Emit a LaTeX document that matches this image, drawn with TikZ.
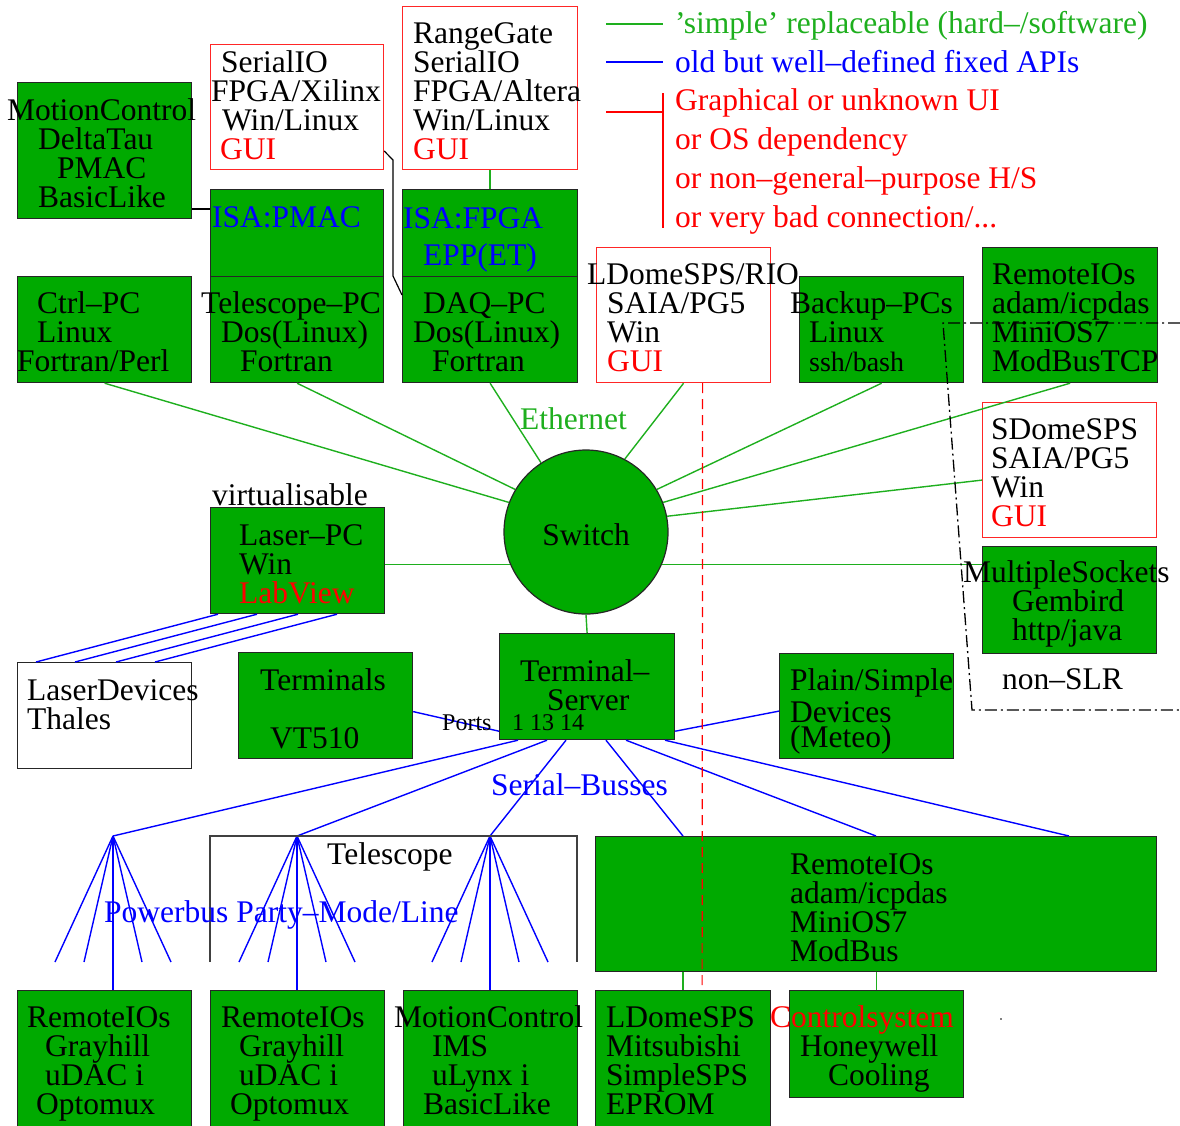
\documentclass[tikz,border=0pt]{standalone}
\usepackage{fontspec}
\setmainfont{Liberation Serif}
\usetikzlibrary{calc}
\definecolor{boxgreen}{RGB}{0,170,0}
\definecolor{netgreen}{RGB}{30,175,30}
\definecolor{guired}{RGB}{255,0,0}
\definecolor{apiblue}{RGB}{0,0,255}
\newcommand{\fsz}{\fontsize{31.5}{29}\selectfont}
\newcommand{\fsm}{\fontsize{24}{24}\selectfont}
\newcommand{\gui}[1]{\textcolor{guired}{#1}}
\tikzset{
  unit/.style={draw=black!85, line width=1.2pt, fill=boxgreen, inner sep=0pt, anchor=north west},
  redbox/.style={draw=guired!85, line width=1.2pt, fill=white, inner sep=0pt, anchor=north west},
  txt/.style={anchor=base west, inner sep=0pt, align=left, font=\fsz},
  eth/.style={draw=netgreen, line width=1.4pt},
  ser/.style={draw=apiblue, line width=1.4pt},
}
\begin{document}
\begin{tikzpicture}[x=1pt,y=-1pt]
\useasboundingbox (0,0) rectangle (1180,1125);
% boxes
\foreach \n/\xa/\ya/\xb/\yb in {mc/17/82/191/218, isap/210/189/383/276, isaf/402/189/577/276,
  ctrl/17/276/191/382, tpc/210/276/383/382, daq/402/276/577/382, bak/799/276/963/382,
  rtcp/982/247/1157/382, msock/982/546/1156/653, laser/210/507/384/613, term/238/652/412/758,
  tsrv/499/633/674/739, plain/779/653/953/758, rbig/595/836/1156/971, rio1/17/990/191/1135,
  rio2/210/990/384/1135, mc2/403/990/577/1135, ldsps/595/990/770/1135, hwell/789/990/963/1097}{
  \node[unit, minimum width={(\xb-\xa)*1pt}, minimum height={(\yb-\ya)*1pt}] (\n) at (\xa,\ya) {};
}
\foreach \n/\xa/\ya/\xb/\yb in {sio/210/44/383/169, rg/402/6/577/169, ldrio/596/247/770/382,
  sdome/982/402/1156/537}{
  \node[redbox, minimum width={(\xb-\xa)*1pt}, minimum height={(\yb-\ya)*1pt}] (\n) at (\xa,\ya) {};
}
\node[unit, fill=white, minimum width=174pt, minimum height=106pt] (ldev) at (17,662) {};
\node[circle, draw=black!85, line width=1.2pt, fill=boxgreen, minimum size=164pt, inner sep=0pt,
  text height=27pt, font=\fsz] (sw) at (586,532) {Switch};

% ethernet
\draw[eth] (ctrl.south) -- (sw.159);
\draw[eth] (tpc.south) -- (sw.149);
\draw[eth] (daq.south) -- (sw.123);
\draw[eth] (ldrio.south) -- (sw.62);
\draw[eth] (bak.south) -- (sw.31);
\draw[eth] (rtcp.south) -- (sw.21);
\draw[eth] ([yshift=-10pt]sdome.west) -- (sw.11);
\draw[eth] (laser.east |- sw.203) -- (sw.203);
\draw[eth] (sw.-23) -- (sw.-23 -| msock.west);
\draw[eth] (sw.south) -- (tsrv.north);
\draw[eth] (rg.south) -- (isaf.north);
\draw[eth] (ldsps.north |- rbig.south) -- (ldsps.north);
\draw[eth] (hwell.north |- rbig.south) -- (hwell.north);

% internal cables
\draw[line width=1.2pt] (mc.east |- 0,209) -- (isap.west |- 0,209);
\draw[line width=1.2pt] (sio.east |- 0,151) -- (393,160) -- (393,276) -- (daq.west |- 0,295);

% serial lines
\foreach \a/\b in {8/19, 47/58, 88/99, 127/138}
  \draw[ser] ([xshift=\a pt]laser.south west) -- ([xshift=\b pt]ldev.north west);
\draw[ser] ([yshift=-6pt]term.east) -- ([yshift=9pt]tsrv.south west);
\draw[ser] ([yshift=9pt]tsrv.south east) -- ([yshift=-5pt]plain.west);
\path (113,836) coordinate (f1) (297,836) coordinate (f2) (490,836) coordinate (f3);
\draw[ser] ([xshift=19pt]tsrv.south west) -- (f1);
\draw[ser] ([xshift=48pt]tsrv.south west) -- (f2);
\draw[ser] ([xshift=67pt]tsrv.south west) -- (f3);
\foreach \a/\b in {107/88, 127/281, 166/474}
  \draw[ser] ([xshift=\a pt]tsrv.south west) -- ([xshift=\b pt]rbig.north west);
\foreach \f/\bx in {f1/rio1, f2/rio2, f3/mc2}{
  \foreach \d in {-58,-29,29,58}
    \draw[ser] (\f) -- ++(\d,126);
  \draw[ser] (\f) -- (\f |- \bx.north);
}

% telescope frame
\draw[black!75, line width=1.2pt] (210,962) -- (210,836) -- (577,836) -- (577,962);

% red link, non-SLR border
\draw[guired, line width=1.2pt, dash pattern=on 10pt off 6pt] ([xshift=19pt]ldrio.south) -- ([xshift=19pt]ldsps.north);
\draw[line width=1.3pt, dash pattern=on 12pt off 4pt on 2pt off 4pt]
  (1180,323) -- (943,323) -- (972,710) -- (1180,710);

% texts (anchored at the baseline of the last line)
\node[txt] (tmc) at (7,207) {MotionControl\\\hspace*{31pt}DeltaTau\\\hspace*{50pt}PMAC\\\hspace*{31pt}BasicLike};
\node[txt] (tsio) at (211,159) {\hspace*{10pt}SerialIO\\FPGA/Xilinx\\\hspace*{11pt}Win/Linux\\\hspace*{9pt}\gui{GUI}};
\node[txt] (trg) at (413,159) {RangeGate\\SerialIO\\FPGA/Altera\\Win/Linux\\\gui{GUI}};
\node[txt, text=apiblue] (tisap) at (212,227) {ISA:PMAC};
\node[txt, text=apiblue] (tisaf) at (403,265) {ISA:FPGA\\[8pt]\hspace*{20pt}EPP(ET)};
\node[txt] (tctrl) at (17,371) {\hspace*{20pt}Ctrl--PC\\\hspace*{20pt}Linux\\Fortran/Perl};
\node[txt] (ttpc) at (201,371) {Telescope--PC\\\hspace*{20pt}Dos(Linux)\\\hspace*{39pt}Fortran};
\node[txt] (tdaq) at (413,371) {\hspace*{10pt}DAQ--PC\\Dos(Linux)\\\hspace*{19pt}Fortran};
\node[txt] (tldrio) at (587,371) {LDomeSPS/RIO\\\hspace*{20pt}SAIA/PG5\\\hspace*{20pt}Win\\\hspace*{20pt}\gui{GUI}};
\node[txt] (tbak) at (790,371) {Backup--PCs\\\hspace*{19pt}Linux\\\hspace*{19pt}{\fontsize{28}{29}\selectfont ssh/bash}};
\node[txt] (trtcp) at (992,371) {RemoteIOs\\adam/icpdas\\MiniOS7\\ModBusTCP};
\node[txt] (tsdome) at (991,526) {SDomeSPS\\SAIA/PG5\\Win\\\gui{GUI}};
\node[txt] (tmsock) at (963,640) {MultipleSockets\\\hspace*{49pt}Gembird\\\hspace*{49pt}http/java};
\node[txt] (tslr) at (1002,689) {non--SLR};
\node[txt] (tvirt) at (212,505) {virtualisable};
\node[txt] (tlaser) at (239,603) {Laser--PC\\Win\\\gui{LabView}};
\node[txt] (tldev) at (27,729) {LaserDevices\\Thales};
\node[txt] (tterm) at (260,690) {Terminals};
\node[txt] (tvt) at (270,748) {VT510};
\node[txt] (ttsrv) at (520,710) {Terminal--\\\hspace*{27pt}Server};
\node[txt, font=\fsm] (tports) at (442,730) {Ports};
\node[txt, font=\fsm] (tpnum) at (512,730) {1 13 14};
\node[txt] (tplain) at (790,690) {Plain/Simple};
\node[txt] (tdev) at (790,722) {Devices};
\node[txt] (tmeteo) at (790,747) {(Meteo)};
\node[txt, text=netgreen] (teth) at (520,429) {Ethernet};
\node[txt, text=apiblue] (tser) at (491,795) {Serial--Busses};
\node[txt] (ttel) at (327,864) {Telescope};
\node[txt, text=apiblue] (tpow) at (104,922) {Powerbus Party--Mode/Line};
\node[txt] (trbig) at (790,961) {RemoteIOs\\adam/icpdas\\MiniOS7\\ModBus};
\node[txt] (trio1) at (27,1114) {RemoteIOs\\\hspace*{18pt}Grayhill\\\hspace*{18pt}uDAC i\\\hspace*{9pt}Optomux};
\node[txt] (trio2) at (221,1114) {RemoteIOs\\\hspace*{18pt}Grayhill\\\hspace*{18pt}uDAC i\\\hspace*{9pt}Optomux};
\node[txt] (tmc2) at (394,1114) {MotionControl\\\hspace*{38pt}IMS\\\hspace*{38pt}uLynx i\\\hspace*{29pt}BasicLike};
\node[txt] (tldsps) at (606,1114) {LDomeSPS\\Mitsubishi\\SimpleSPS\\EPROM};
\node[txt] (thwell) at (770,1085) {\gui{Controlsystem}\\\hspace*{30pt}Honeywell\\\hspace*{58pt}Cooling};
\fill (1001,1019) circle (0.8);

% legend
\draw[eth] (606,24) coordinate (lg1) -- (663,24);
\draw[ser] (606,62) coordinate (lg2) -- (663,62);
\draw[guired, line width=1.4pt] (606,112) coordinate (lg3) -- (663,112) (663,93) -- (663,228);
\node[txt, text=netgreen] (tlg1) at (675,33) {'simple' replaceable (hard--/software)};
\node[txt, text=apiblue] (tlg2) at (675,72) {old but well--defined fixed APIs};
\node[txt, text=guired] (tlg3) at (675,227) {Graphical or unknown UI\\[10pt]or OS dependency\\[10pt]or non--general--purpose H/S\\[10pt]or very bad connection/...};
\end{tikzpicture}
\end{document}
